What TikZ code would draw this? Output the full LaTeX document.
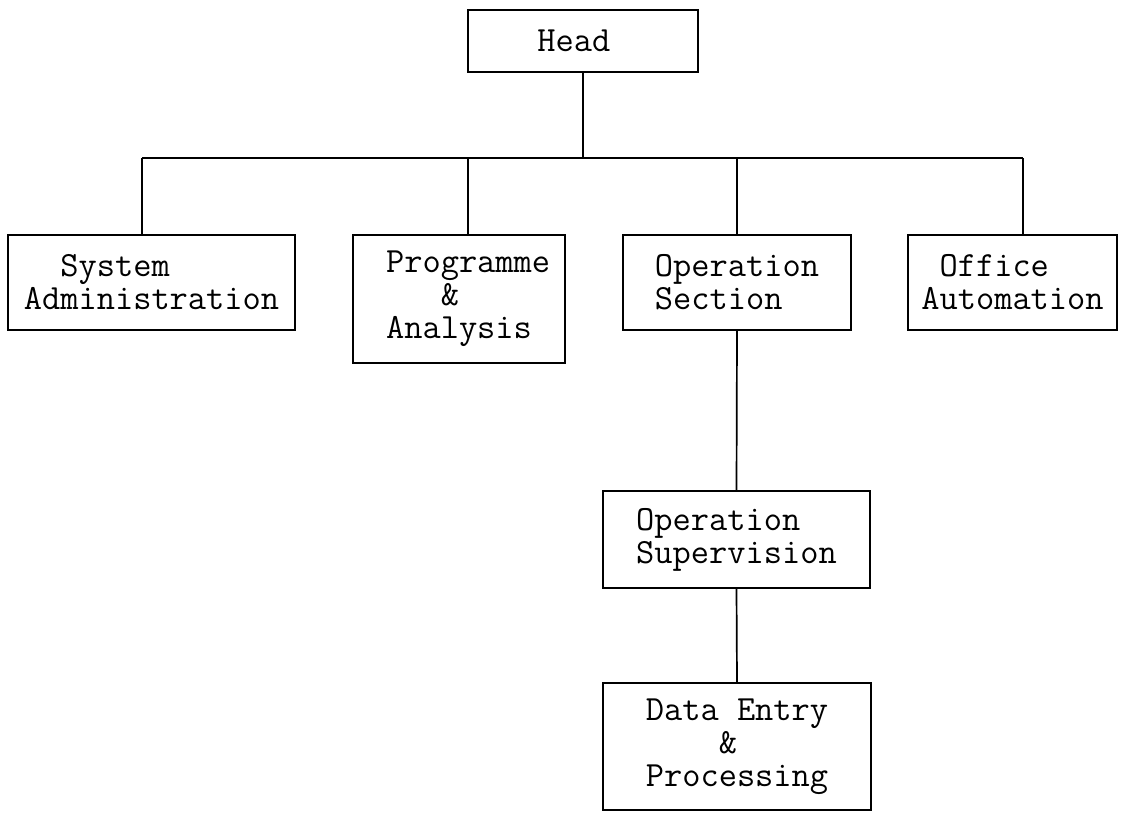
\documentclass[tikz,border=0pt]{standalone}
\usepackage{fontspec}
\usepackage{tikz}

\begin{document}
\begin{tikzpicture}[x=1pt,y=-1pt,
			unit box/.style={rectangle,draw,line width=1.7pt,align=left,inner sep=0pt,
				font=\ttfamily\fontsize{35.4}{33}\selectfont},
			link/.style={line width=1.7pt}
			]
			
			\def \bar {158};
			
			\useasboundingbox (0,0) rectangle (1124,812);
			
			\node[unit box,minimum width=230,minimum height=62] at (583,41) (head) {Head\phantom{.}};
			
			\node[unit box,minimum width=287,minimum height=95] at (151.5,282.5) (sysadm) {\phantom{xx}System\\Administration};
			\node[unit box,minimum width=212,minimum height=128] at (459,299) (prog) {\phantom{.}Programme\\\phantom{xxxx}\&\\\phantom{.}Analysis};
			\node[unit box,minimum width=228,minimum height=95] at (737,282.5) (opsec) {Operation\\Section};
			\node[unit box,minimum width=209,minimum height=95] at (1012.5,282.5) (office) {\phantom{x}Office\\Automation};
			\node[unit box,minimum width=267,minimum height=97] at (736.5,539.5) (opsup) {Operation\\Supervision};
			\node[unit box,minimum width=268,minimum height=127] at (737,746.5) (data) {Data Entry\\\phantom{xxxx}\&\\Processing};
			
			% tree bar under the head
			\coordinate (b0) at (583,\bar);
			\coordinate (b1) at (142,\bar);
			\coordinate (b2) at (468,\bar);
			\coordinate (b3) at (737,\bar);
			\coordinate (b4) at (1023,\bar);
			
			\draw[link] (head.south) -- (b0);
			\draw[link] (b1) -- (b4);
			\draw[link] (b1) -- (b1 |- sysadm.north);
			\draw[link] (b2) -- (b2 |- prog.north);
			\draw[link] (b3) -- (opsec.north);
			\draw[link] (b4) -- (b4 |- office.north);
			
			\draw[link] (opsec.south) -- (opsup.north);
			\draw[link] (opsup.south) -- (data.north);
\end{tikzpicture}
\end{document}
